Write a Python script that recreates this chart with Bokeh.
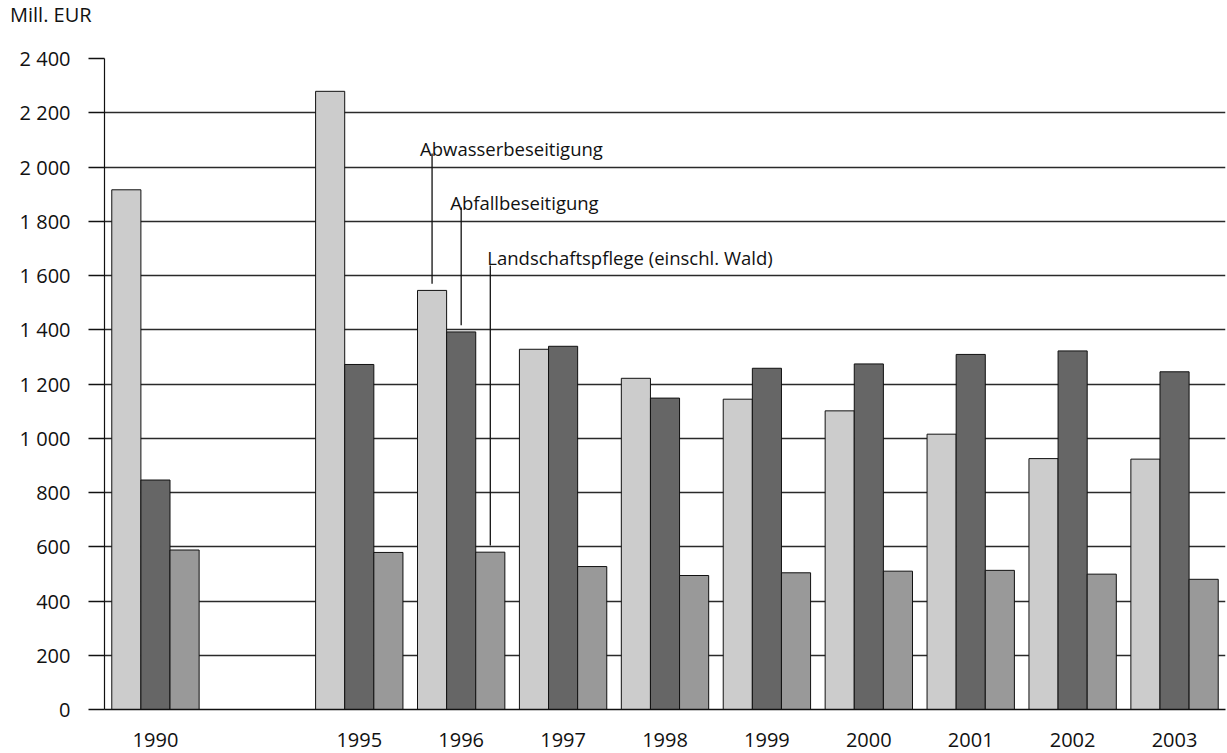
from bokeh.plotting import figure
from bokeh.models import FixedTicker, Label, Range1d, Div
from bokeh.layouts import column
from bokeh.embed import file_html
from bokeh.resources import INLINE

# ---- data ----
slots = ["1990", "", "1995", "1996", "1997", "1998", "1999", "2000", "2001", "2002", "2003"]
years = ["1990", "1995", "1996", "1997", "1998", "1999", "2000", "2001", "2002", "2003"]
abwasser = [1916, 2279, 1545, 1328, 1221, 1144, 1101, 1015, 925, 923]
abfall = [846, 1272, 1392, 1339, 1148, 1258, 1274, 1309, 1322, 1245]
landschaft = [588, 579, 580, 527, 494, 504, 510, 513, 499, 480]
series_names = ["Abwasserbeseitigung", "Abfallbeseitigung", "Landschaftspflege (einschl. Wald)"]
series_colors = ["#cccccc", "#666666", "#999999"]
y_ticks = list(range(0, 2401, 200))
y_unit = "Mill. EUR"
annot_year = "1996"

FONT = "Open Sans"
TXT = "#111111"

x_pos = [slots.index(y) for y in years]
bw = 2.0 / 7.0
offsets = [-bw, 0.0, bw]

W, H = 1227, 753
HEAD = 30
fig = figure(width=W, height=H - HEAD, output_backend="svg", toolbar_location=None,
             x_range=Range1d(-0.5, len(slots) - 0.5), y_range=Range1d(0, 2400),
             min_border_left=104, min_border_right=2, min_border_top=58 - HEAD, min_border_bottom=44)
fig.outline_line_color = None
fig.background_fill_color = "white"

for vals, col, off in zip([abwasser, abfall, landschaft], series_colors, offsets):
    fig.vbar(x=[xp + off for xp in x_pos], top=vals, bottom=0, width=bw,
             fill_color=col, line_color="#111111", line_width=1)

# axes
fig.xaxis.ticker = FixedTicker(ticks=x_pos)
fig.xaxis.major_label_overrides = {xp: y for xp, y in zip(x_pos, years)}
fig.xaxis.major_tick_out = 0
fig.xaxis.major_tick_in = 0
fig.xaxis.minor_tick_line_color = None
fig.xaxis.axis_line_color = "#111111"
fig.xaxis.axis_line_width = 1.5
fig.xaxis.major_label_standoff = 23
fig.xaxis.major_label_text_font = FONT
fig.xaxis.major_label_text_font_size = "20px"
fig.xaxis.major_label_text_color = TXT

fig.yaxis.ticker = FixedTicker(ticks=y_ticks)
fig.yaxis.major_label_overrides = {t: f"{t:,}".replace(",", " ") for t in y_ticks}
fig.yaxis.major_tick_out = 16
fig.yaxis.major_tick_in = 0
fig.yaxis.major_tick_line_color = "#111111"
fig.yaxis.major_tick_line_width = 1.5
fig.yaxis.minor_tick_line_color = None
fig.yaxis.axis_line_color = "#111111"
fig.yaxis.axis_line_width = 1.2
fig.yaxis.major_label_standoff = 18
fig.yaxis.major_label_text_font = FONT
fig.yaxis.major_label_text_font_size = "20px"
fig.yaxis.major_label_text_color = TXT

fig.xgrid.grid_line_color = None
fig.ygrid.grid_line_color = "#2a2a2a"
fig.ygrid.grid_line_width = 1.5

# annotations with leader lines
ai = years.index(annot_year)
xa = x_pos[ai]
annot_text_y = [2068, 1869, 1666]
annot_line_top = [2050, 1851, 1637]
annot_text_dx = [-12, -11, -3]
gap = 25
for vals, off, name, ty, lt, dx in zip([abwasser, abfall, landschaft], offsets, series_names,
                                       annot_text_y, annot_line_top, annot_text_dx):
    lx = xa + off
    fig.segment(x0=[lx], y0=[vals[ai] + gap], x1=[lx], y1=[lt], line_color="#111111", line_width=1.3)
    fig.add_layout(Label(x=lx, y=ty, x_offset=dx, text=name, text_font=FONT, text_font_size="18.5px",
                         text_color=TXT, text_baseline="alphabetic", text_align="left"))

# unit label above the plot
head = Div(text=y_unit, width=W, height=HEAD, margin=0,
           styles={"font-family": FONT, "font-size": "20px", "color": TXT,
                   "padding-left": "10px", "line-height": "29px", "white-space": "nowrap"})

p = column(head, fig, spacing=0)
open("out.html", "w").write(file_html(p, INLINE))
